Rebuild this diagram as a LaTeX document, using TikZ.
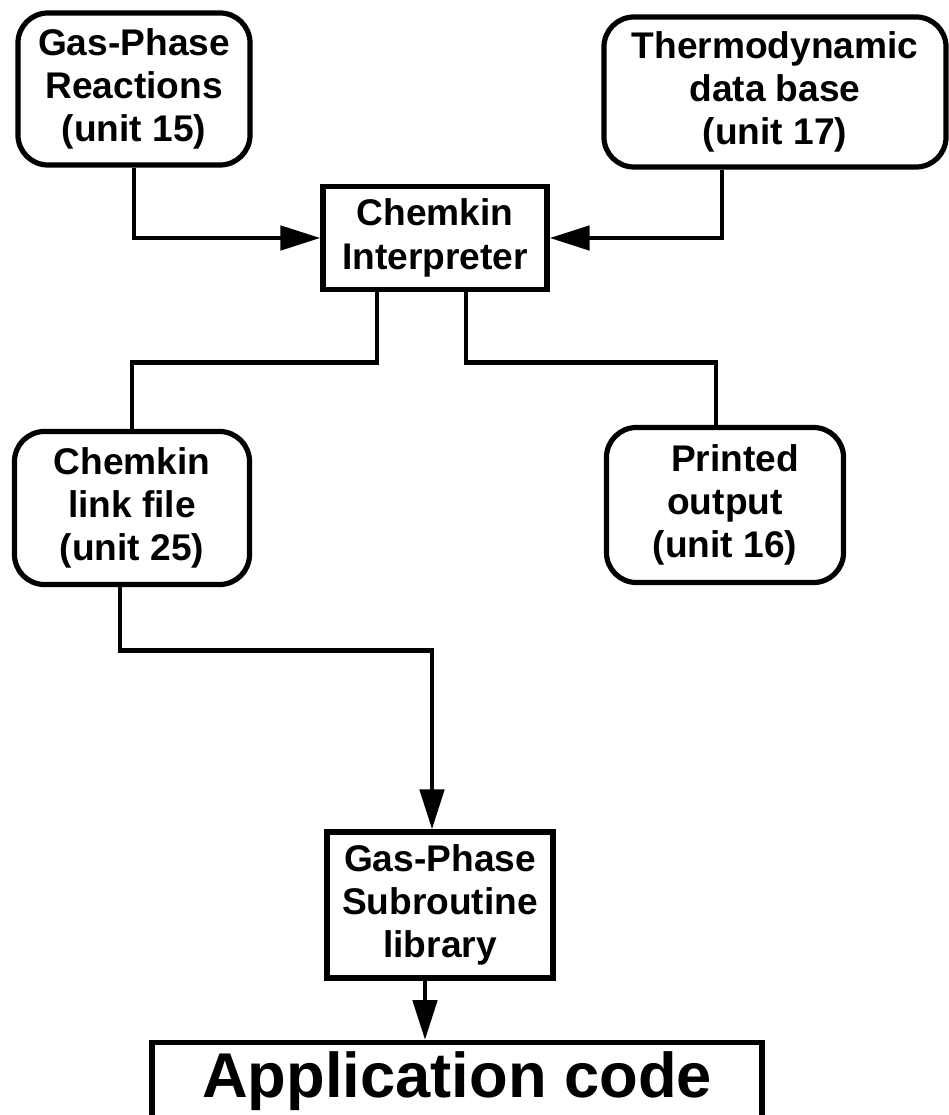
\documentclass[tikz,border=0pt]{standalone}
\usepackage{fontspec}
\setmainfont{Liberation Sans}
\usetikzlibrary{arrows.meta}
\newcommand{\boxfont}{\fontsize{26.4pt}{30.8pt}\selectfont\bfseries}
\newcommand{\appfont}{\fontsize{45pt}{50pt}\selectfont\bfseries}

\begin{document}
\begin{tikzpicture}[x=0.025cm,y=-0.025cm,
  unitbox/.style={draw, line width=3.7pt, rounded corners=0.75cm, align=center, font=\boxfont, inner sep=0pt},
  progbox/.style={draw, line width=3.7pt, align=center, font=\boxfont, inner sep=0pt},
  wire/.style={line width=3.5pt},
  feed/.style={wire, -{Triangle[length=1cm,width=0.6cm]}}]

 \useasboundingbox (0,0) rectangle (948,1115);

 \node[unitbox, minimum width=5.8cm, minimum height=3.8cm] (gpr) at (134,89) {Gas-Phase\\Reactions\\(unit 15)};
 \node[unitbox, minimum width=8.55cm, minimum height=3.75cm] (thermo) at (775,92) {Thermodynamic\\data base\\(unit 17)};
 \node[progbox, minimum width=5.6cm, minimum height=2.575cm] (interp) at (435,238) {Chemkin\\Interpreter};
 \node[unitbox, minimum width=5.875cm, minimum height=3.825cm] (link) at (132,508) {Chemkin\\link file\\(unit 25)};
 \node[unitbox, minimum width=5.925cm, minimum height=3.875cm] (printed) at (725,505) {\hspace*{0.5cm}Printed\\output\\(unit 16)};
 \node[progbox, minimum width=5.65cm, minimum height=3.65cm] (sub) at (440,905) {Gas-Phase\\Subroutine\\library};
 \node[progbox, anchor=north, minimum width=15.25cm, minimum height=1.95cm, font=\appfont] (app) at (457,1040) {Application code};

 \coordinate (thermoout) at ([xshift=-1.325cm]thermo.south);
 \coordinate (subout) at ([xshift=-0.375cm]sub.south);

 \draw[feed] (gpr.south) |- (interp.west);
 \draw[feed] (thermoout) |- (interp.east);
 \draw[wire] ([xshift=-1.45cm]interp.south) -- ++(0,70) -| (link.north);
 \draw[wire] ([xshift=0.775cm]interp.south) -- ++(0,70) -| ([xshift=-0.225cm]printed.north);
 \draw[feed] ([xshift=-0.3cm]link.south) -- ++(0,63) -| ([xshift=-0.2cm]sub.north);
 \draw[feed] (subout) -- (subout |- app.north);

\end{tikzpicture}
\end{document}
